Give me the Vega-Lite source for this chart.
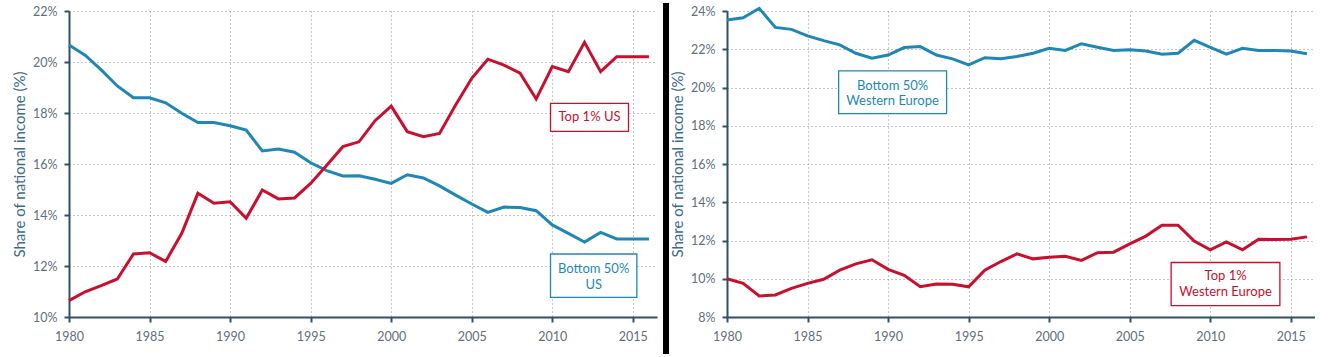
{
  "$schema": "https://vega.github.io/schema/vega-lite/v6.json",
  "padding": {"left": 12, "top": 0, "right": 0, "bottom": 0},
  "bounds": "flush",
  "spacing": 70,
  "config": {
    "view": {"stroke": null},
    "font": "Lato",
    "axis": {
      "domainColor": "#2f5165", "domainWidth": 2,
      "tickColor": "#2f5165", "tickWidth": 2, "tickSize": 5,
      "labelFont": "Lato", "labelFontSize": 12.5, "labelColor": "#5f6e7c",
      "labelFlush": false, "labelOverlap": false,
      "titleFont": "Lato", "titleFontSize": 15, "titleColor": "#3b6b8c", "titleFontWeight": "normal",
      "gridColor": "#8a8a8a", "gridDash": [1, 3], "gridWidth": 1, "grid": true
    }
  },
  "datasets": {
    "us": [
      {"year":1980,"series":"Bottom 50%","share":20.67},{"year":1981,"series":"Bottom 50%","share":20.27},{"year":1982,"series":"Bottom 50%","share":19.69},{"year":1983,"series":"Bottom 50%","share":19.06},{"year":1984,"series":"Bottom 50%","share":18.60},{"year":1985,"series":"Bottom 50%","share":18.60},{"year":1986,"series":"Bottom 50%","share":18.40},{"year":1987,"series":"Bottom 50%","share":17.99},{"year":1988,"series":"Bottom 50%","share":17.63},{"year":1989,"series":"Bottom 50%","share":17.63},{"year":1990,"series":"Bottom 50%","share":17.50},{"year":1991,"series":"Bottom 50%","share":17.33},{"year":1992,"series":"Bottom 50%","share":16.51},{"year":1993,"series":"Bottom 50%","share":16.59},{"year":1994,"series":"Bottom 50%","share":16.46},{"year":1995,"series":"Bottom 50%","share":16.05},{"year":1996,"series":"Bottom 50%","share":15.74},{"year":1997,"series":"Bottom 50%","share":15.53},{"year":1998,"series":"Bottom 50%","share":15.54},{"year":1999,"series":"Bottom 50%","share":15.40},{"year":2000,"series":"Bottom 50%","share":15.24},{"year":2001,"series":"Bottom 50%","share":15.58},{"year":2002,"series":"Bottom 50%","share":15.45},{"year":2003,"series":"Bottom 50%","share":15.14},{"year":2004,"series":"Bottom 50%","share":14.78},{"year":2005,"series":"Bottom 50%","share":14.43},{"year":2006,"series":"Bottom 50%","share":14.10},{"year":2007,"series":"Bottom 50%","share":14.31},{"year":2008,"series":"Bottom 50%","share":14.29},{"year":2009,"series":"Bottom 50%","share":14.17},{"year":2010,"series":"Bottom 50%","share":13.61},{"year":2011,"series":"Bottom 50%","share":13.28},{"year":2012,"series":"Bottom 50%","share":12.94},{"year":2013,"series":"Bottom 50%","share":13.32},{"year":2014,"series":"Bottom 50%","share":13.06},{"year":2015,"series":"Bottom 50%","share":13.06},{"year":2016,"series":"Bottom 50%","share":13.06},
      {"year":1980,"series":"Top 1%","share":10.64},{"year":1981,"series":"Top 1%","share":10.99},{"year":1982,"series":"Top 1%","share":11.23},{"year":1983,"series":"Top 1%","share":11.49},{"year":1984,"series":"Top 1%","share":12.47},{"year":1985,"series":"Top 1%","share":12.52},{"year":1986,"series":"Top 1%","share":12.18},{"year":1987,"series":"Top 1%","share":13.28},{"year":1988,"series":"Top 1%","share":14.85},{"year":1989,"series":"Top 1%","share":14.46},{"year":1990,"series":"Top 1%","share":14.52},{"year":1991,"series":"Top 1%","share":13.87},{"year":1992,"series":"Top 1%","share":14.98},{"year":1993,"series":"Top 1%","share":14.63},{"year":1994,"series":"Top 1%","share":14.67},{"year":1995,"series":"Top 1%","share":15.24},{"year":1996,"series":"Top 1%","share":15.95},{"year":1997,"series":"Top 1%","share":16.68},{"year":1998,"series":"Top 1%","share":16.87},{"year":1999,"series":"Top 1%","share":17.70},{"year":2000,"series":"Top 1%","share":18.27},{"year":2001,"series":"Top 1%","share":17.27},{"year":2002,"series":"Top 1%","share":17.07},{"year":2003,"series":"Top 1%","share":17.20},{"year":2004,"series":"Top 1%","share":18.31},{"year":2005,"series":"Top 1%","share":19.36},{"year":2006,"series":"Top 1%","share":20.11},{"year":2007,"series":"Top 1%","share":19.88},{"year":2008,"series":"Top 1%","share":19.56},{"year":2009,"series":"Top 1%","share":18.55},{"year":2010,"series":"Top 1%","share":19.82},{"year":2011,"series":"Top 1%","share":19.62},{"year":2012,"series":"Top 1%","share":20.77},{"year":2013,"series":"Top 1%","share":19.62},{"year":2014,"series":"Top 1%","share":20.21},{"year":2015,"series":"Top 1%","share":20.21},{"year":2016,"series":"Top 1%","share":20.21}
    ],
    "we": [
      {"year":1980,"series":"Bottom 50%","share":23.53},{"year":1981,"series":"Bottom 50%","share":23.65},{"year":1982,"series":"Bottom 50%","share":24.14},{"year":1983,"series":"Bottom 50%","share":23.14},{"year":1984,"series":"Bottom 50%","share":23.04},{"year":1985,"series":"Bottom 50%","share":22.70},{"year":1986,"series":"Bottom 50%","share":22.45},{"year":1987,"series":"Bottom 50%","share":22.23},{"year":1988,"series":"Bottom 50%","share":21.79},{"year":1989,"series":"Bottom 50%","share":21.53},{"year":1990,"series":"Bottom 50%","share":21.70},{"year":1991,"series":"Bottom 50%","share":22.09},{"year":1992,"series":"Bottom 50%","share":22.14},{"year":1993,"series":"Bottom 50%","share":21.70},{"year":1994,"series":"Bottom 50%","share":21.50},{"year":1995,"series":"Bottom 50%","share":21.18},{"year":1996,"series":"Bottom 50%","share":21.56},{"year":1997,"series":"Bottom 50%","share":21.50},{"year":1998,"series":"Bottom 50%","share":21.62},{"year":1999,"series":"Bottom 50%","share":21.79},{"year":2000,"series":"Bottom 50%","share":22.05},{"year":2001,"series":"Bottom 50%","share":21.94},{"year":2002,"series":"Bottom 50%","share":22.29},{"year":2003,"series":"Bottom 50%","share":22.10},{"year":2004,"series":"Bottom 50%","share":21.94},{"year":2005,"series":"Bottom 50%","share":21.97},{"year":2006,"series":"Bottom 50%","share":21.91},{"year":2007,"series":"Bottom 50%","share":21.74},{"year":2008,"series":"Bottom 50%","share":21.79},{"year":2009,"series":"Bottom 50%","share":22.47},{"year":2010,"series":"Bottom 50%","share":22.10},{"year":2011,"series":"Bottom 50%","share":21.74},{"year":2012,"series":"Bottom 50%","share":22.05},{"year":2013,"series":"Bottom 50%","share":21.93},{"year":2014,"series":"Bottom 50%","share":21.93},{"year":2015,"series":"Bottom 50%","share":21.91},{"year":2016,"series":"Bottom 50%","share":21.77},
      {"year":1980,"series":"Top 1%","share":10.00},{"year":1981,"series":"Top 1%","share":9.76},{"year":1982,"series":"Top 1%","share":9.10},{"year":1983,"series":"Top 1%","share":9.15},{"year":1984,"series":"Top 1%","share":9.50},{"year":1985,"series":"Top 1%","share":9.76},{"year":1986,"series":"Top 1%","share":9.97},{"year":1987,"series":"Top 1%","share":10.45},{"year":1988,"series":"Top 1%","share":10.78},{"year":1989,"series":"Top 1%","share":10.99},{"year":1990,"series":"Top 1%","share":10.49},{"year":1991,"series":"Top 1%","share":10.18},{"year":1992,"series":"Top 1%","share":9.58},{"year":1993,"series":"Top 1%","share":9.72},{"year":1994,"series":"Top 1%","share":9.71},{"year":1995,"series":"Top 1%","share":9.58},{"year":1996,"series":"Top 1%","share":10.45},{"year":1997,"series":"Top 1%","share":10.90},{"year":1998,"series":"Top 1%","share":11.30},{"year":1999,"series":"Top 1%","share":11.04},{"year":2000,"series":"Top 1%","share":11.13},{"year":2001,"series":"Top 1%","share":11.17},{"year":2002,"series":"Top 1%","share":10.96},{"year":2003,"series":"Top 1%","share":11.36},{"year":2004,"series":"Top 1%","share":11.39},{"year":2005,"series":"Top 1%","share":11.82},{"year":2006,"series":"Top 1%","share":12.23},{"year":2007,"series":"Top 1%","share":12.80},{"year":2008,"series":"Top 1%","share":12.80},{"year":2009,"series":"Top 1%","share":11.97},{"year":2010,"series":"Top 1%","share":11.51},{"year":2011,"series":"Top 1%","share":11.93},{"year":2012,"series":"Top 1%","share":11.51},{"year":2013,"series":"Top 1%","share":12.07},{"year":2014,"series":"Top 1%","share":12.05},{"year":2015,"series":"Top 1%","share":12.07},{"year":2016,"series":"Top 1%","share":12.19}
    ],
    "usNotes": [
      {"series":"Top 1%","x1":2009.89,"x2":2014.73,"y1":17.28,"y2":18.38,"tx":2012.31,"ty":17.84,"label":["Top 1% US"]},
      {"series":"Bottom 50%","x1":2009.89,"x2":2015.25,"y1":10.77,"y2":12.47,"tx":2012.57,"ty":11.88,"label":["Bottom 50%","US"]}
    ],
    "weNotes": [
      {"series":"Bottom 50%","x1":1986.93,"x2":1993.63,"y1":18.63,"y2":20.87,"tx":1990.28,"ty":20.09,"label":["Bottom 50%","Western Europe"]},
      {"series":"Top 1%","x1":2007.57,"x2":2014.32,"y1":8.59,"y2":10.85,"tx":2010.95,"ty":10.12,"label":["Top 1%","Western Europe"]}
    ]
  },
  "resolve": {"scale": {"y": "independent", "x": "independent"}},
  "hconcat": [
    {
      "width": 588, "height": 306,
      "layer": [
        {
          "data": {"name": "us"},
          "mark": {"type": "line", "strokeWidth": 3},
          "encoding": {
            "x": {"field": "year", "type": "quantitative", "scale": {"domain": [1980, 2016.5], "nice": false, "zero": false},
                  "axis": {"title": null, "values": [1980,1985,1990,1995,2000,2005,2010,2015], "tickCount": 20, "format": "d", "labelPadding": 8}},
            "y": {"field": "share", "type": "quantitative", "scale": {"domain": [10, 22], "nice": false, "zero": false},
                  "axis": {"title": "Share of national income (%)", "values": [10,12,14,16,18,20,22], "tickCount": 20, "labelExpr": "datum.value + '%'", "labelPadding": 7, "titlePadding": 5}},
            "color": {"field": "series", "type": "nominal", "scale": {"domain": ["Bottom 50%", "Top 1%"], "range": ["#1f87b5", "#c8102e"]}, "legend": null}
          }
        },
        {
          "data": {"name": "usNotes"},
          "mark": {"type": "rect", "fill": "white", "strokeWidth": 1.3},
          "encoding": {
            "x": {"field": "x1", "type": "quantitative"}, "x2": {"field": "x2"},
            "y": {"field": "y1", "type": "quantitative"}, "y2": {"field": "y2"},
            "stroke": {"field": "series", "type": "nominal", "scale": {"domain": ["Bottom 50%", "Top 1%"], "range": ["#1f87b5", "#c8102e"]}, "legend": null}
          }
        },
        {
          "data": {"name": "usNotes"},
          "mark": {"type": "text", "font": "Lato", "fontSize": 13, "lineHeight": 15.5, "align": "center", "baseline": "middle"},
          "encoding": {
            "x": {"field": "tx", "type": "quantitative"},
            "y": {"field": "ty", "type": "quantitative"},
            "text": {"field": "label"},
            "color": {"field": "series", "type": "nominal", "legend": null}
          }
        },
        {
          "data": {"values": [{"edge": "separator"}]},
          "mark": {"type": "rule", "color": "black", "strokeWidth": 6},
          "encoding": {
            "x": {"datum": 2017.06, "type": "quantitative"},
            "y": {"datum": 22.31, "type": "quantitative"},
            "y2": {"datum": 8.55}
          }
        }
      ]
    },
    {
      "width": 588, "height": 306,
      "layer": [
        {
          "data": {"name": "we"},
          "mark": {"type": "line", "strokeWidth": 3},
          "encoding": {
            "x": {"field": "year", "type": "quantitative", "scale": {"domain": [1980, 2016.5], "nice": false, "zero": false},
                  "axis": {"title": null, "values": [1980,1985,1990,1995,2000,2005,2010,2015], "tickCount": 20, "format": "d", "labelPadding": 8}},
            "y": {"field": "share", "type": "quantitative", "scale": {"domain": [8, 24], "nice": false, "zero": false},
                  "axis": {"title": "Share of national income (%)", "values": [8,10,12,14,16,18,20,22,24], "tickCount": 20, "labelExpr": "datum.value + '%'", "labelPadding": 7, "titlePadding": 5}},
            "color": {"field": "series", "type": "nominal", "scale": {"domain": ["Bottom 50%", "Top 1%"], "range": ["#1f87b5", "#c8102e"]}, "legend": null}
          }
        },
        {
          "data": {"name": "weNotes"},
          "mark": {"type": "rect", "fill": "white", "strokeWidth": 1.3},
          "encoding": {
            "x": {"field": "x1", "type": "quantitative"}, "x2": {"field": "x2"},
            "y": {"field": "y1", "type": "quantitative"}, "y2": {"field": "y2"},
            "stroke": {"field": "series", "type": "nominal", "scale": {"domain": ["Bottom 50%", "Top 1%"], "range": ["#1f87b5", "#c8102e"]}, "legend": null}
          }
        },
        {
          "data": {"name": "weNotes"},
          "mark": {"type": "text", "font": "Lato", "fontSize": 13, "lineHeight": 15.5, "align": "center", "baseline": "middle"},
          "encoding": {
            "x": {"field": "tx", "type": "quantitative"},
            "y": {"field": "ty", "type": "quantitative"},
            "text": {"field": "label"},
            "color": {"field": "series", "type": "nominal", "legend": null}
          }
        }
      ]
    }
  ]
}
